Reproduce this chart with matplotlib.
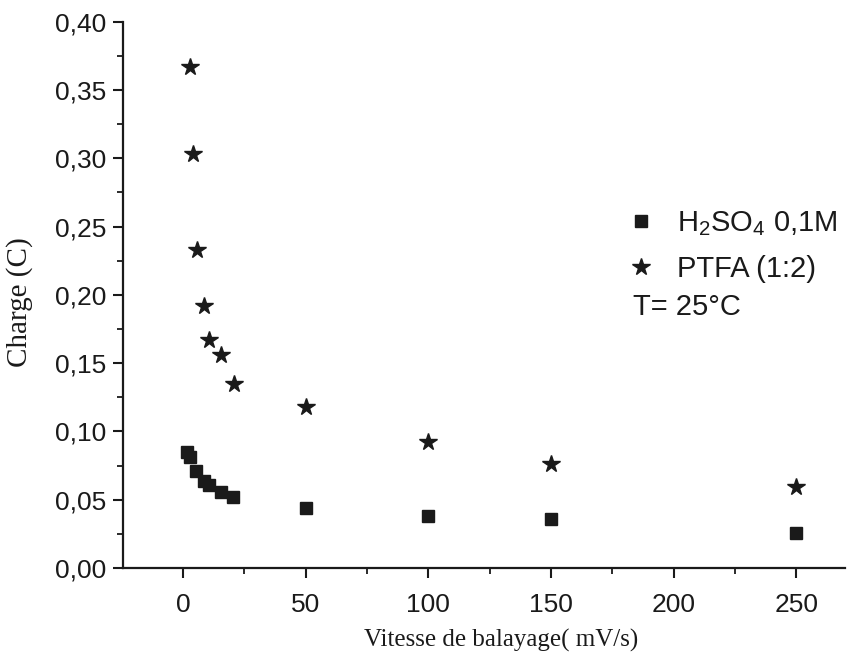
import matplotlib
matplotlib.use('Agg')
import matplotlib.pyplot as plt
from matplotlib.ticker import MultipleLocator, FuncFormatter

# scan rate (mV/s) and charge (C)
vitesse_h2so4 = [1.5, 3, 5.5, 8.5, 10.5, 15.5, 20.3, 50, 100, 150, 250]
charge_h2so4 = [0.085, 0.081, 0.071, 0.064, 0.061, 0.056, 0.052, 0.0437, 0.038, 0.0356, 0.0257]

vitesse_ptfa = [3, 4, 5.8, 8.6, 10.6, 15.6, 20.8, 50, 100, 150, 250]
charge_ptfa = [0.367, 0.303, 0.233, 0.192, 0.167, 0.156, 0.135, 0.118, 0.0924, 0.0763, 0.059]

label_h2so4 = r'H$_\mathregular{2}$SO$_\mathregular{4}$ 0,1M'
label_ptfa = 'PTFA (1:2)'
note = 'T= 25°C'

plt.rcParams['font.family'] = ['Liberation Sans', 'DejaVu Sans']
plt.rcParams['mathtext.fontset'] = 'custom'
plt.rcParams['mathtext.rm'] = 'Liberation Sans'

ink = '#1a1a1a'

fig = plt.figure(figsize=(8.51, 6.61), dpi=100)
ax = fig.add_axes([0.1445, 0.1407, 0.849, 0.8265])

ax.plot(vitesse_h2so4, charge_h2so4, linestyle='none', marker='s',
        markersize=9, color=ink, label=label_h2so4)
ax.plot(vitesse_ptfa, charge_ptfa, linestyle='none', marker='*',
        markersize=13, color=ink, label=label_ptfa)

ax.set_xlim(-24.4, 270)
ax.set_ylim(0, 0.40)

ax.xaxis.set_major_locator(MultipleLocator(50))
ax.xaxis.set_minor_locator(MultipleLocator(25))
ax.yaxis.set_major_locator(MultipleLocator(0.05))
ax.yaxis.set_minor_locator(MultipleLocator(0.025))
ax.yaxis.set_major_formatter(FuncFormatter(lambda v, p: f'{v:.2f}'.replace('.', ',')))

for side in ['top', 'right']:
    ax.spines[side].set_visible(False)
for side in ['left', 'bottom']:
    ax.spines[side].set_linewidth(1.6)
    ax.spines[side].set_color(ink)

ax.tick_params(which='major', direction='out', length=7, width=1.5,
               labelsize=19, colors=ink, pad=5)
ax.tick_params(axis='x', which='major', pad=11)
ax.tick_params(which='minor', direction='out', length=4, width=1.3, colors=ink)

ax.set_xlabel('Vitesse de balayage( mV/s)', family='Liberation Serif',
              fontsize=18, color=ink)
ax.set_ylabel('Charge (C)', family='Liberation Serif',
              fontsize=21, color=ink)
ax.xaxis.set_label_coords(0.523, -0.112)
ax.xaxis.label.set_va('top')
ax.yaxis.set_label_coords(-0.125, 0.487)

leg = ax.legend(loc='upper left', bbox_to_anchor=(0.6805, 0.678), frameon=False,
                fontsize=21, handletextpad=0.73, labelspacing=0.59,
                handlelength=1.0, borderaxespad=0)
for t in leg.get_texts():
    t.set_color(ink)

ax.text(0.706, 0.478, note, transform=ax.transAxes, fontsize=21,
        color=ink, va='center', ha='left')

fig.savefig('out.png', dpi=100)
